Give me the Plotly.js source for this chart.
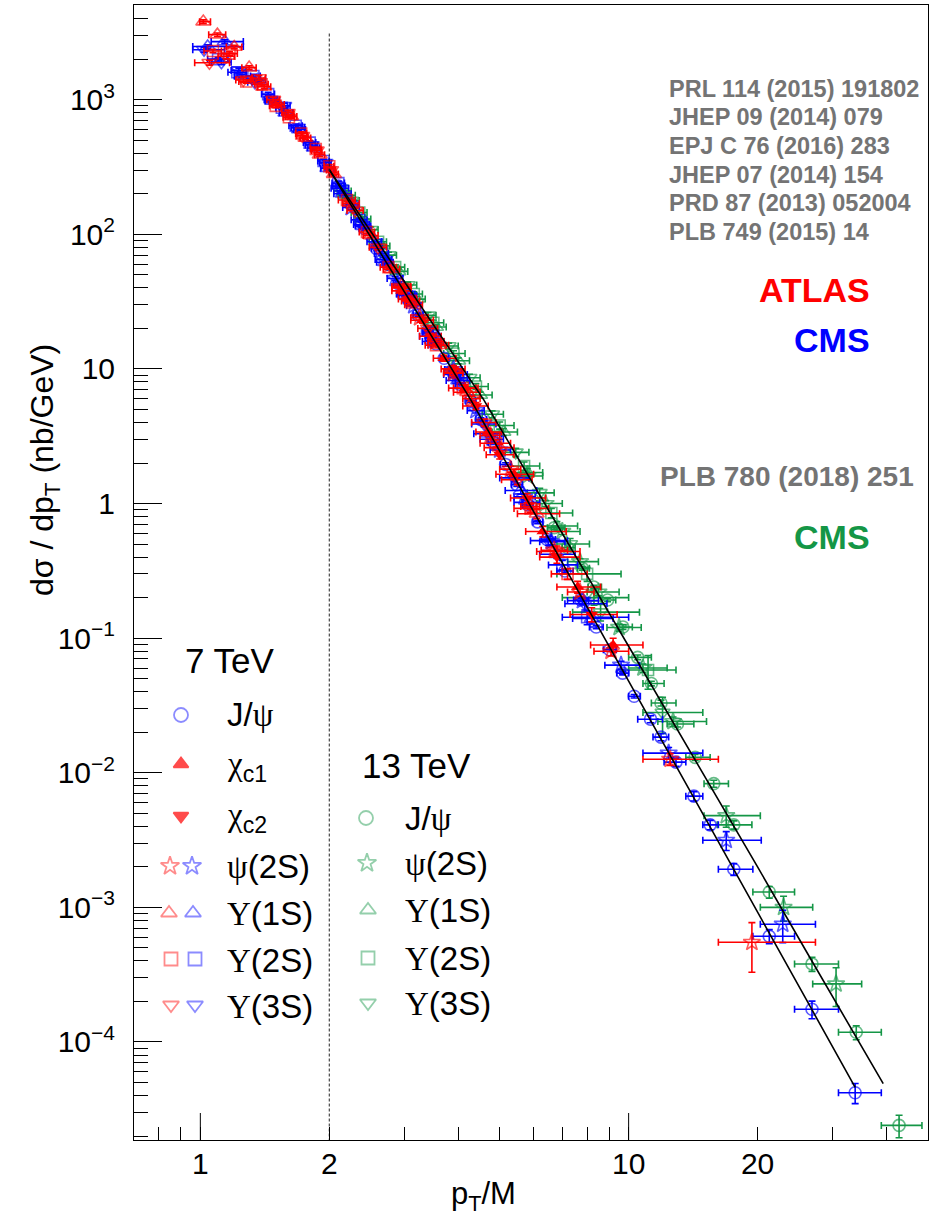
<!DOCTYPE html>
<html><head><meta charset="utf-8">
<script src="https://cdn.plot.ly/plotly-3.0.1.min.js"></script>
<style>html,body{margin:0;padding:0;background:#fff}#chart{width:932px;height:1223px}</style>
</head><body><div id="chart"></div>
<script>
// ---------------- data ----------------
// 7 TeV, CMS J/psi
const jpsi7X = [2.10,2.26,2.42,2.58,2.74,2.90,3.06,3.22,3.39,3.55,3.71,3.87,4.03,4.27,4.52,4.84,5.16,5.48,5.81,6.13,6.45,7.10,7.74,8.40,9.03,9.68,10.3,11.25,11.9,12.9,14.2,15.5,17.6,21.3,26.8,33.8];
const jpsi7Y = [228,165,110,78,60,43,32.5,25.2,19.0,15.3,12.0,9.7,7.7,5.8,4.2,2.85,1.95,1.38,0.98,0.73,0.54,0.315,0.192,0.121,0.082,0.055,0.037,0.025,0.0184,0.012,0.0067,0.0041,0.00192,0.00061,0.000175,0.000042];
const jpsi7Exm = [.07,.07,.07,.07,.07,.07,.07,.08,.08,.08,.08,.08,.09,.1,.12,.14,.14,.15,.15,.15,.2,.3,.3,.3,.3,.3,.3,.75,.5,.8,.6,.6,1.4,1.8,2.4,2.9];
const jpsi7Exp = [.08,.08,.08,.08,.08,.09,.09,.09,.09,.09,.09,.09,.1,.12,.14,.16,.16,.17,.17,.17,.3,.32,.32,.32,.33,.33,.35,.75,.5,.7,.7,.7,1.9,3.1,4.1,5.1];
const jpsi7Eyr = [.03,.03,.03,.03,.03,.03,.03,.03,.03,.03,.03,.03,.03,.03,.03,.03,.03,.03,.03,.03,.03,.03,.03,.03,.03,.03,.03,.06,.06,.07,.08,.08,.1,.12,.15,.17];
// 7 TeV, ATLAS psi(2S)
const psi2s7aX = [2.95,3.25,3.55,3.9,4.3,4.75,5.3,5.9,6.7,7.7,9.1,12.5,19.4];
const psi2s7aY = [41,24,16,9.3,6.0,3.2,1.8,0.95,0.45,0.22,0.08,0.0126,0.00055];
const psi2s7aExm = [.15,.15,.15,.2,.2,.25,.3,.3,.45,.5,.8,1.7,3.2];
const psi2s7aExp = [.15,.15,.15,.2,.2,.25,.3,.3,.5,.6,.9,3.7,7.9];
const psi2s7aEyr = [.04,.04,.04,.04,.04,.05,.05,.05,.06,.07,.08,.1,.4];
// 7 TeV, CMS psi(2S)
const psi2s7cX = [2.25,2.55,2.85,3.15,3.5,3.9,4.4,5.0,5.7,6.6,7.8,9.6,12.4,16.9,22.9];
const psi2s7cY = [158,88,47,29.5,16.2,9.9,4.9,2.5,1.12,0.52,0.19,0.063,0.014,0.00315,0.00075];
const psi2s7cExm = [.1,.1,.12,.12,.15,.18,.2,.25,.3,.4,.6,.8,1.6,2.0,2.6];
const psi2s7cExp = [.1,.1,.12,.12,.15,.18,.2,.3,.35,.5,.7,1.0,2.5,3.5,4.4];
const psi2s7cEyr = [.03,.03,.03,.03,.03,.04,.04,.04,.05,.05,.06,.07,.1,.16,.27];
// 7 TeV, ATLAS chi_c1
const chic1X = [2.95,3.3,3.7,4.15,4.7,5.4,6.3,7.6,9.2];
const chic1Y = [38,23,12,7.2,3.4,1.65,0.62,0.24,0.089];
const chic1Exm = [.15,.2,.2,.25,.3,.5,.55,.8,1.05];
const chic1Exp = [.15,.2,.25,.3,.35,.6,.85,1.0,1.6];
const chic1Eyr = [.05,.05,.05,.06,.06,.08,.09,.1,.12];
// 7 TeV, ATLAS chi_c2
const chic2X = [3.05,3.45,3.9,4.4,5.0,5.8,6.8,8.2];
const chic2Y = [33,17.5,10,5.3,2.3,1.1,0.40,0.15];
const chic2Exm = [.15,.2,.25,.3,.35,.5,.6,.9];
const chic2Exp = [.15,.2,.25,.3,.4,.6,.9,1.2];
const chic2Eyr = [.05,.05,.06,.06,.07,.08,.1,.12];
// 7 TeV, ATLAS Upsilon(1S)
const ups1s7aX = [1.016,1.096,1.20,1.30,1.41,1.52,1.63,1.76,1.90,2.05,2.25,2.5,2.8,3.15,3.6,4.2,5.0,6.1];
const ups1s7aY = [3800,3040,2460,1730,1250,920,750,520,390,280,170,98,55,30,15,6.7,2.6,0.84];
const ups1s7aExm = [.02,.05,.05,.05,.05,.05,.05,.05,.05,.05,.1,.1,.12,.15,.2,.3,.4,.6];
const ups1s7aExp = [.04,.05,.05,.05,.05,.05,.05,.05,.05,.05,.1,.1,.12,.15,.2,.3,.4,.8];
const ups1s7aEyr = [.03,.03,.03,.03,.03,.03,.03,.03,.03,.03,.03,.03,.03,.03,.03,.05,.06,.08];
// 7 TeV, CMS Upsilon(1S)
const ups1s7cX = [1.04,1.14,1.25,1.36,1.47,1.58,1.70,1.84,1.98,2.15,2.4,2.7,3.05,3.5,4.0,4.7,5.6,6.8,8.2];
const ups1s7cY = [2480,2700,1500,1400,980,800,600,440,310,200,115,62,35,16,8.2,3.3,1.25,0.42,0.14];
const ups1s7cExm = [.08,.08,.05,.05,.05,.05,.05,.06,.07,.1,.1,.12,.15,.2,.25,.35,.45,.6,.8];
const ups1s7cExp = [.22,.12,.06,.06,.06,.06,.06,.06,.07,.1,.1,.12,.15,.2,.25,.35,.5,.7,1.0];
const ups1s7cEyr = [.03,.03,.03,.03,.03,.03,.03,.03,.03,.03,.03,.03,.03,.03,.03,.05,.06,.07,.09];
// 7 TeV, ATLAS Upsilon(2S)
const ups2s7aX = [1.07,1.17,1.28,1.39,1.50,1.61,1.72,1.86,2.0,2.2,2.45,2.75,3.1,3.55,4.1,4.9,5.9,7.2];
const ups2s7aY = [2300,2200,1365,1300,900,740,560,430,320,180,104,57,32,15,7.2,2.8,0.92,0.30];
const ups2s7aExm = [.05,.05,.05,.05,.05,.05,.05,.05,.05,.1,.1,.12,.15,.2,.3,.4,.5,.6];
const ups2s7aExp = [.05,.05,.05,.05,.05,.05,.05,.05,.05,.1,.1,.12,.15,.2,.3,.4,.6,.8];
const ups2s7aEyr = [.03,.03,.03,.03,.03,.03,.03,.03,.03,.03,.03,.03,.03,.03,.05,.06,.07,.09];
// 7 TeV, CMS Upsilon(2S)
const ups2s7cX = [1.10,1.22,1.33,1.44,1.55,1.67,1.80,1.94,2.1,2.35,2.65,3.0,3.45,4.0,4.8,5.8,7.0,8.0];
const ups2s7cY = [2000,1600,1500,1100,870,640,480,350,240,128,72,36,18.5,8.6,3.0,1.02,0.35,0.143];
const ups2s7cExm = [.06,.06,.05,.05,.05,.06,.06,.06,.07,.1,.1,.12,.15,.2,.3,.4,.5,1.0];
const ups2s7cExp = [.06,.06,.05,.05,.05,.06,.06,.06,.07,.1,.1,.12,.15,.2,.3,.4,.6,2.0];
const ups2s7cEyr = [.03,.03,.03,.03,.03,.03,.03,.03,.03,.03,.03,.03,.03,.03,.05,.06,.08,.12];
// 7 TeV, ATLAS Upsilon(3S)
const ups3s7aX = [1.05,1.15,1.26,1.37,1.48,1.60,1.73,1.87,2.02,2.3,2.6,2.95,3.4,3.9,4.6,5.5,6.8];
const ups3s7aY = [1880,2100,1400,1450,1000,800,540,420,300,150,80,40,20,9.4,4.0,1.5,0.44];
const ups3s7aExm = [.08,.05,.05,.05,.05,.05,.05,.05,.05,.1,.12,.15,.18,.2,.3,.45,.7];
const ups3s7aExp = [.12,.05,.05,.05,.05,.05,.05,.05,.05,.1,.12,.15,.18,.2,.3,.45,.9];
const ups3s7aEyr = [.04,.04,.04,.04,.04,.04,.04,.04,.04,.04,.04,.04,.04,.05,.06,.08,.1];
// 7 TeV, CMS Upsilon(3S)
const ups3s7cX = [1.02,1.12,1.23,1.34,1.46,1.57,1.69,1.82,1.96,2.12,2.38,2.68,3.02,3.45,3.95,4.6,5.4,6.5,7.9];
const ups3s7cY = [2350,1900,1650,1350,1000,900,620,460,340,220,118,65,36,17.5,9.1,3.9,1.55,0.53,0.18];
const ups3s7cExm = [.06,.06,.05,.05,.05,.05,.06,.06,.06,.1,.1,.12,.15,.2,.25,.3,.4,.6,.8];
const ups3s7cExp = [.12,.06,.05,.05,.05,.05,.06,.06,.06,.1,.1,.12,.15,.2,.25,.3,.45,.7,1.0];
const ups3s7cEyr = [.04,.04,.04,.04,.04,.04,.04,.04,.04,.04,.04,.04,.04,.04,.04,.05,.06,.08,.1];
// 13 TeV, CMS J/psi
const jpsi13X = [6.7,7.2,7.8,8.29,8.93,9.7,10.5,11.3,11.9,13.0,14.3,15.8,17.6,21.3,26.8,34.0,42.8];
const jpsi13Y = [0.66,0.47,0.33,0.24,0.192,0.121,0.072,0.046,0.033,0.023,0.013,0.0083,0.0041,0.0013,0.00038,0.000118,0.000024];
const jpsi13Exm = [.24,.2,.2,.25,.3,.3,.5,.5,.6,.7,.7,.8,1.5,1.8,2.4,3.1,3.9];
const jpsi13Exp = [.4,.3,.3,.35,.4,.5,.8,.8,1.0,1.2,1.2,1.3,1.8,3.1,4.1,4.9,5.6];
const jpsi13Eyr = [.03,.03,.03,.03,.03,.04,.04,.04,.05,.05,.05,.06,.07,.1,.12,.12,.19];
// 13 TeV, CMS psi(2S)
const psi2s13X = [5.8,6.4,7.0,7.7,8.5,9.5,10.8,12.7,16.9,23.0,30.5];
const psi2s13Y = [1.6,1.0,0.62,0.37,0.22,0.12,0.06,0.024,0.0048,0.001,0.00027];
const psi2s13Exm = [.3,.3,.4,.5,.5,.6,.8,1.0,1.9,2.7,3.6];
const psi2s13Exp = [.5,.6,.7,.8,1.0,1.2,1.5,2.5,3.4,3.9,4.5];
const psi2s13Eyr = [.05,.05,.05,.05,.06,.06,.07,.08,.18,.21,.32];
// 13 TeV, CMS Upsilon(1S)
const ups1s13X = [2.2,2.4,2.65,2.9,3.2,3.55,4.0,4.5,5.1,5.8,6.8,8.3];
const ups1s13Y = [195,130,82,53,33,20.5,11.5,6.4,3.4,1.7,0.68,0.20];
const ups1s13Exm = [.1,.1,.12,.12,.15,.18,.2,.25,.3,.4,.5,1.3];
const ups1s13Exp = [.1,.1,.12,.15,.15,.2,.25,.3,.4,.5,.8,1.7];
const ups1s13Eyr = [.04,.04,.04,.04,.04,.04,.05,.05,.06,.07,.08,.12];
// 13 TeV, CMS Upsilon(2S)
const ups2s13X = [2.15,2.35,2.6,2.85,3.15,3.5,3.9,4.4,5.0,5.7,6.6,8.0,11.1];
const ups2s13Y = [210,145,88,57,36,22,13,7.4,3.8,1.9,0.85,0.30,0.058];
const ups2s13Exm = [.1,.1,.12,.12,.15,.18,.2,.25,.3,.4,.5,1.2,1.5];
const ups2s13Exp = [.1,.1,.12,.15,.15,.2,.25,.3,.4,.5,.8,1.6,1.8];
const ups2s13Eyr = [.04,.04,.04,.04,.04,.05,.05,.05,.06,.07,.08,.12,.28];
// 13 TeV, CMS Upsilon(3S)
const ups3s13X = [2.25,2.5,2.75,3.05,3.4,3.8,4.25,4.8,5.45,6.2,7.3,8.6,12.0];
const ups3s13Y = [178,108,70,42,25,14.8,8.6,4.6,2.4,1.2,0.5,0.156,0.028];
const ups3s13Exm = [.1,.1,.12,.15,.15,.18,.2,.25,.3,.4,.5,1.2,1.2];
const ups3s13Exp = [.1,.1,.12,.15,.15,.2,.25,.3,.4,.5,.8,2.0,2.9];
const ups3s13Eyr = [.05,.05,.05,.05,.05,.05,.06,.06,.07,.08,.1,.14,.3];
// fitted curves (7 TeV lower, 13 TeV upper)
const fit7X = [2.0,2.5,3.0,3.5,4.0,4.28,5.0,6.0,7.0,8.0,10.0,14.3,20.0,26.0,33.8];
const fit7Y = [302,95,37,16.7,8.4,5.89,2.45,0.875,0.365,0.171,0.048,0.00625,0.00093,0.000206,0.000046];
const fit13X = [2.0,2.5,3.0,3.5,4.0,4.59,5.0,6.0,7.0,8.0,10.0,12.0,16.1,20.0,26.0,30.0,39.3];
const fit13Y = [302,105,44,21.3,11.3,5.89,3.7,1.39,0.60,0.291,0.087,0.0324,0.00658,0.0020,0.00047,0.000216,0.000049];
// vertical reference line at pT/M = 2
const refLineX = [2, 2];
const refLineY = [3100, 1e-5];
// axis ticks
const xTickVals = [1, 2, 10, 20];
const xTickText = ['1', '2', '10', '20'];
const xMinorVals = [0.8, 0.9, 3, 4, 5, 6, 7, 8, 9, 30, 40];
const yTickVals = [1e-4, 1e-3, 1e-2, 1e-1, 1, 10, 100, 1000];
const yTickText = ['10<sup>−4</sup>','10<sup>−3</sup>','10<sup>−2</sup>','10<sup>−1</sup>','1','10','10<sup>2</sup>','10<sup>3</sup>'];

// ---------------- styling ----------------
const SANS = 'Liberation Sans, Arial, Helvetica, sans-serif';
const SERIF = 'Liberation Serif, Times New Roman, serif';
const RED = '#ff0000', BLUE = '#0000ff', GREEN = 'rgb(20,150,70)';
const RED_A = 'rgba(255,0,0,0.65)', BLUE_A = 'rgba(0,0,255,0.65)', GREEN_A = 'rgba(20,150,70,0.65)';
const GRAY = '#747474';
const PL = 134, PR = 928, PT = 5, PB = 1140;
const fx = px => (px - PL) / (PR - PL);
const fy = py => (PB - py) / (PB - PT);

function series(x, y, exm, exp, eyr, color, colorA, symbol, size) {
  const open = symbol.endsWith('-open');
  return {
    type: 'scatter', mode: 'markers', x: x, y: y, hoverinfo: 'skip', showlegend: false,
    error_x: {type: 'data', symmetric: false, array: exp, arrayminus: exm, color: color, thickness: 1.6, width: 3.5},
    error_y: {type: 'data', array: y.map((v, i) => v * eyr[i]), color: color, thickness: 1.6, width: 3.5},
    marker: {symbol: symbol, size: size, color: open ? colorA : color, line: {width: open ? 1.6 : 0, color: open ? colorA : color}}
  };
}

const traces = [
  series(jpsi13X, jpsi13Y, jpsi13Exm, jpsi13Exp, jpsi13Eyr, GREEN, GREEN_A, 'circle-open', 12),
  series(psi2s13X, psi2s13Y, psi2s13Exm, psi2s13Exp, psi2s13Eyr, GREEN, GREEN_A, 'star-open', 13),
  series(ups1s13X, ups1s13Y, ups1s13Exm, ups1s13Exp, ups1s13Eyr, GREEN, GREEN_A, 'triangle-up-open', 13),
  series(ups2s13X, ups2s13Y, ups2s13Exm, ups2s13Exp, ups2s13Eyr, GREEN, GREEN_A, 'square-open', 11),
  series(ups3s13X, ups3s13Y, ups3s13Exm, ups3s13Exp, ups3s13Eyr, GREEN, GREEN_A, 'triangle-down-open', 13),
  series(jpsi7X, jpsi7Y, jpsi7Exm, jpsi7Exp, jpsi7Eyr, BLUE, BLUE_A, 'circle-open', 12),
  series(psi2s7cX, psi2s7cY, psi2s7cExm, psi2s7cExp, psi2s7cEyr, BLUE, BLUE_A, 'star-open', 13),
  series(ups1s7cX, ups1s7cY, ups1s7cExm, ups1s7cExp, ups1s7cEyr, BLUE, BLUE_A, 'triangle-up-open', 13),
  series(ups2s7cX, ups2s7cY, ups2s7cExm, ups2s7cExp, ups2s7cEyr, BLUE, BLUE_A, 'square-open', 11),
  series(ups3s7cX, ups3s7cY, ups3s7cExm, ups3s7cExp, ups3s7cEyr, BLUE, BLUE_A, 'triangle-down-open', 13),
  series(ups1s7aX, ups1s7aY, ups1s7aExm, ups1s7aExp, ups1s7aEyr, RED, RED_A, 'triangle-up-open', 13),
  series(ups2s7aX, ups2s7aY, ups2s7aExm, ups2s7aExp, ups2s7aEyr, RED, RED_A, 'square-open', 11),
  series(ups3s7aX, ups3s7aY, ups3s7aExm, ups3s7aExp, ups3s7aEyr, RED, RED_A, 'triangle-down-open', 13),
  series(psi2s7aX, psi2s7aY, psi2s7aExm, psi2s7aExp, psi2s7aEyr, RED, RED_A, 'star-open', 13),
  series(chic1X, chic1Y, chic1Exm, chic1Exp, chic1Eyr, RED, RED_A, 'triangle-up', 11),
  series(chic2X, chic2Y, chic2Exm, chic2Exp, chic2Eyr, RED, RED_A, 'triangle-down', 11),
  {type: 'scatter', mode: 'lines', x: fit7X, y: fit7Y, line: {color: 'black', width: 1.6}, hoverinfo: 'skip', showlegend: false},
  {type: 'scatter', mode: 'lines', x: fit13X, y: fit13Y, line: {color: 'black', width: 1.6}, hoverinfo: 'skip', showlegend: false},
  {type: 'scatter', mode: 'lines', x: refLineX, y: refLineY, line: {color: '#222', width: 1, dash: '3px,2px'}, hoverinfo: 'skip', showlegend: false}
];

// legend keys drawn on a hidden overlay axis (positions in pixels of the page)
const legendKeys = [
  [181, 715, BLUE_A, 'circle-open', 14],
  [181, 764, RED, 'triangle-up', 13],
  [181, 816, RED, 'triangle-down', 13],
  [170, 866, RED_A, 'star-open', 14], [192, 866, BLUE_A, 'star-open', 14],
  [169, 913, RED_A, 'triangle-up-open', 14], [193, 913, BLUE_A, 'triangle-up-open', 14],
  [171, 959, RED_A, 'square-open', 13], [195, 959, BLUE_A, 'square-open', 13],
  [171, 1005, RED_A, 'triangle-down-open', 14], [195, 1005, BLUE_A, 'triangle-down-open', 14],
  [366, 818, GREEN_A, 'circle-open', 14],
  [367, 863, GREEN_A, 'star-open', 14],
  [368, 910, GREEN_A, 'triangle-up-open', 14],
  [368, 958, GREEN_A, 'square-open', 13],
  [368, 1003, GREEN_A, 'triangle-down-open', 14]
];
traces.push({
  type: 'scatter', mode: 'markers', xaxis: 'x2', yaxis: 'y2', hoverinfo: 'skip', showlegend: false,
  x: legendKeys.map(k => fx(k[0])), y: legendKeys.map(k => fy(k[1])),
  marker: {symbol: legendKeys.map(k => k[3]), size: legendKeys.map(k => k[4]),
           color: legendKeys.map(k => k[2]), line: {width: 1.8, color: legendKeys.map(k => k[2])}}
});

const gr = s => '<span style="font-family:' + SERIF + ';font-size:33px">' + s + '</span>';
const ann = [];
function txt(text, px, py, opts) {
  ann.push(Object.assign({text: text, xref: 'paper', yref: 'paper', x: fx(px), y: fy(py),
    xanchor: 'left', yanchor: 'middle', showarrow: false,
    font: {family: SANS, size: 33, color: 'black'}}, opts || {}));
}
// references
const refs = ['PRL 114 (2015) 191802', 'JHEP 09 (2014) 079', 'EPJ C 76 (2016) 283', 'JHEP 07 (2014) 154', 'PRD 87 (2013) 052004', 'PLB 749 (2015) 14'];
const refY = [89, 117, 146, 175, 203, 232];
refs.forEach((r, i) => txt('<b>' + r + '</b>', 667, refY[i], {font: {family: SANS, size: 23.5, color: GRAY}}));
txt('<b>ATLAS</b>', 872, 290, {xanchor: 'right', font: {family: SANS, size: 34, color: RED}});
txt('<b>CMS</b>', 872, 340, {xanchor: 'right', font: {family: SANS, size: 34, color: BLUE}});
txt('<b>PLB 780 (2018) 251</b>', 658, 477, {font: {family: SANS, size: 28, color: GRAY}});
txt('<b>CMS</b>', 872, 537, {xanchor: 'right', font: {family: SANS, size: 34, color: GREEN}});
// legend texts
txt('7 TeV', 183, 661, {font: {family: SANS, size: 35, color: 'black'}});
txt('J/' + gr('ψ'), 225, 714);
txt(gr('χ') + '<sub>c1</sub>', 225, 766);
txt(gr('χ') + '<sub>c2</sub>', 225, 817);
txt(gr('ψ') + '(2S)', 225, 866);
txt(gr('Υ') + '(1S)', 225, 913);
txt(gr('Υ') + '(2S)', 225, 960);
txt(gr('Υ') + '(3S)', 225, 1006);
txt('13 TeV', 360, 765, {font: {family: SANS, size: 35, color: 'black'}});
txt('J/' + gr('ψ'), 403, 818);
txt(gr('ψ') + '(2S)', 403, 863);
txt(gr('Υ') + '(1S)', 403, 910);
txt(gr('Υ') + '(2S)', 403, 958);
txt(gr('Υ') + '(3S)', 403, 1003);
// axis titles
txt('dσ / dp<sub>T</sub> (nb/GeV)', 45, 470, {xanchor: 'center', textangle: -90, font: {family: SANS, size: 32, color: 'black'}});
txt('p<sub>T</sub>/M', 483, 1196, {xanchor: 'center', font: {family: SANS, size: 31, color: 'black'}});

const yMinor = [];
for (let k = -5; k <= 3; k++) for (let m = 2; m <= 9; m++) { const v = m * Math.pow(10, k); if (v > 1.87e-5 && v < 5050) yMinor.push(v); }

const layout = {
  width: 932, height: 1223,
  margin: {l: PL, r: 932 - PR, t: PT, b: 1223 - PB, pad: 0},
  paper_bgcolor: 'white', plot_bgcolor: 'white', showlegend: false,
  font: {family: SANS, size: 30, color: 'black'},
  xaxis: {type: 'log', range: [Math.log10(0.7), Math.log10(50)], showgrid: false, zeroline: false,
    showline: true, linecolor: 'black', linewidth: 1, mirror: true,
    ticks: 'inside', ticklen: 13, tickwidth: 1, tickcolor: 'black',
    tickmode: 'array', tickvals: xTickVals, ticktext: xTickText, tickfont: {family: SANS, size: 30},
    ticklabelstandoff: -3,
    minor: {ticks: 'inside', ticklen: 13, tickwidth: 1, tickcolor: 'black', tickmode: 'array', tickvals: xMinorVals, showgrid: false}},
  yaxis: {type: 'log', range: [Math.log10(1.87e-5), Math.log10(5050)], showgrid: false, zeroline: false,
    showline: true, linecolor: 'black', linewidth: 1, mirror: true,
    ticks: 'inside', ticklen: 28, tickwidth: 1, tickcolor: 'black',
    tickmode: 'array', tickvals: yTickVals, ticktext: yTickText, tickfont: {family: SANS, size: 30},
    ticklabelstandoff: 12,
    minor: {ticks: 'inside', ticklen: 14, tickwidth: 1, tickcolor: 'black', tickmode: 'array', tickvals: yMinor, showgrid: false}},
  xaxis2: {overlaying: 'x', anchor: 'y2', range: [0, 1], visible: false, fixedrange: true},
  yaxis2: {overlaying: 'y', anchor: 'x2', range: [0, 1], visible: false, fixedrange: true},
  shapes: [1, 10].map(v => ({type: 'line', xref: 'x', yref: 'paper', x0: v, x1: v, y0: 0, y1: 27 / (PB - PT), line: {color: 'black', width: 1}})),
  annotations: ann
};

Plotly.newPlot('chart', traces, layout, {staticPlot: true, displayModeBar: false});
</script></body></html>
